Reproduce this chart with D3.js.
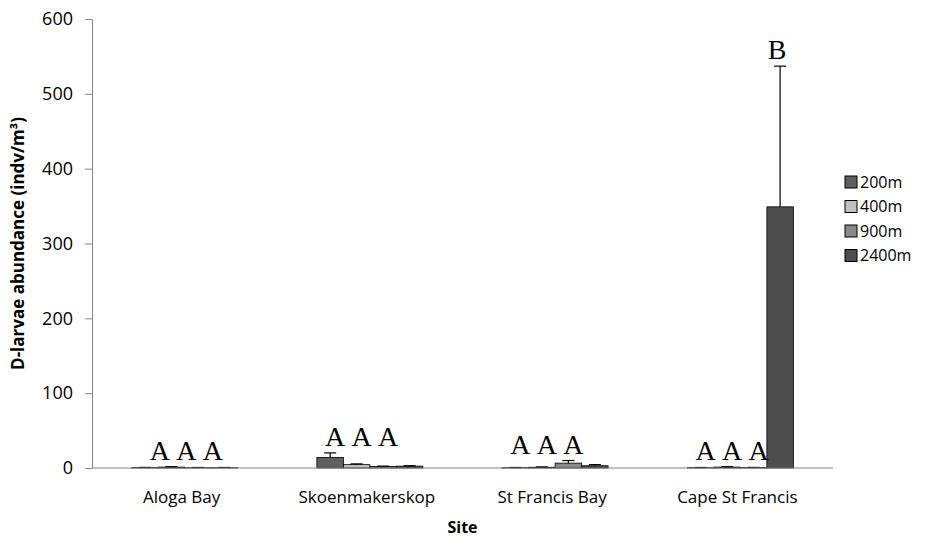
<!DOCTYPE html>
<html>
<head>
<meta charset="utf-8">
<script src="https://cdn.jsdelivr.net/npm/d3@7"></script>
<style>
  html, body { margin: 0; padding: 0; background: #fff; }
  svg { display: block; }
</style>
</head>
<body>
<svg id="chart" width="927" height="540"></svg>
<script>
// Sampling sites and depth series
const sites = ["Aloga Bay", "Skoenmakerskop", "St Francis Bay", "Cape St Francis"];
const depths = ["200m", "400m", "900m", "2400m"];

// Mean D-larvae abundance (indv/m³) per site, one array per depth
const mean200  = [0.5, 14.2, 0.4, 0.4];
const mean400  = [1.2, 4.5, 1.0, 1.2];
const mean900  = [0.4, 2.0, 6.5, 0.5];
const mean2400 = [0.4, 2.5, 3.0, 349];

// Upper error (standard error) per site, one array per depth
const err200  = [0.3, 6.0, 0.3, 0.3];
const err400  = [0.6, 1.0, 0.5, 0.6];
const err900  = [0.3, 0.5, 3.5, 0.3];
const err2400 = [0.3, 0.6, 1.5, 188];

// Significance letters above each bar ("" = none)
const letters200  = ["A", "A", "A", "A"];
const letters400  = ["A", "A", "A", "A"];
const letters900  = ["A", "A", "A", "A"];
const letters2400 = ["", "", "", "B"];

const yTicks = [0, 100, 200, 300, 400, 500, 600];

const means = [mean200, mean400, mean900, mean2400];
const errs = [err200, err400, err900, err2400];
const letters = [letters200, letters400, letters900, letters2400];
const colors = ["#5f5f5f", "#c0c0c0", "#898989", "#4d4d4d"];

const rows = [];
sites.forEach((s, i) => depths.forEach((d, j) => {
  rows.push({ site: s, depth: d, si: i, dj: j, v: means[j][i], e: errs[j][i], L: letters[j][i] });
}));

const svg = d3.select("#chart");
const m = { left: 92, right: 94, top: 19, bottom: 72 };
const W = 927, H = 540;

const x = d3.scaleBand().domain(sites).range([m.left, W - m.right]).paddingInner(0).paddingOuter(0);
const inner = d3.scaleBand().domain(depths).range([0, x.bandwidth() * 0.572]).padding(0);
const y = d3.scaleLinear().domain([0, 600]).range([H - m.bottom, m.top]);

const groupOffset = (x.bandwidth() - inner.range()[1]) / 2;
const barX = r => x(r.site) + groupOffset + inner(r.depth);

const axisColor = "#868686";
const sans = "'Open Sans', 'Noto Sans', sans-serif";

// Y axis
const yAxis = svg.append("g")
  .attr("transform", `translate(${m.left},0)`)
  .call(d3.axisLeft(y).tickValues(yTicks).tickSize(7).tickPadding(12).tickSizeOuter(0));
yAxis.select(".domain").attr("stroke", axisColor);
yAxis.selectAll(".tick line").attr("stroke", axisColor);
yAxis.selectAll(".tick text")
  .attr("font-family", sans).attr("font-size", 18).attr("fill", "#000");

// Bars
svg.append("g").selectAll("rect").data(rows).join("rect")
  .attr("x", barX)
  .attr("y", r => y(r.v))
  .attr("width", inner.bandwidth())
  .attr("height", r => y(0) - y(r.v))
  .attr("fill", r => colors[r.dj])
  .attr("stroke", "#000")
  .attr("stroke-width", 0.8);

// Error bars (upper only)
const eg = svg.append("g").attr("stroke", "#000").attr("stroke-width", 1.2);
rows.forEach(r => {
  const cx = barX(r) + inner.bandwidth() / 2;
  eg.append("line").attr("x1", cx).attr("x2", cx).attr("y1", y(r.v)).attr("y2", y(r.v + r.e));
  eg.append("line").attr("x1", cx - 6).attr("x2", cx + 6).attr("y1", y(r.v + r.e)).attr("y2", y(r.v + r.e));
});

// X axis line
svg.append("line")
  .attr("x1", m.left).attr("x2", W - m.right)
  .attr("y1", y(0)).attr("y2", y(0))
  .attr("stroke", axisColor).attr("stroke-width", 1.2);

// Category labels
svg.append("g").selectAll("text").data(sites).join("text")
  .attr("x", d => x(d) + x.bandwidth() / 2 - 3)
  .attr("y", y(0) + 35)
  .attr("text-anchor", "middle")
  .attr("font-family", sans).attr("font-size", 17)
  .text(d => d);

// Significance letters: A's sit over the first three bars of a group, B over its bar
const letterNudge = [15, 5, 5, 5];
svg.append("g").selectAll("text").data(rows.filter(r => r.L)).join("text")
  .attr("x", r => {
    const cx = barX(r) + inner.bandwidth() / 2;
    return r.L === "B" ? cx - 3 : cx + letterNudge[r.si];
  })
  .attr("y", r => {
    if (r.L === "B") return y(r.v + r.e) - 7;
    const top = d3.max([0, 1, 2], j => means[j][r.si] + errs[j][r.si]);
    return y(top) - 7;
  })
  .attr("text-anchor", "middle")
  .attr("font-family", "'Liberation Serif', 'Times New Roman', serif")
  .attr("font-size", 28)
  .text(r => r.L);

// Axis titles
svg.append("text")
  .attr("x", (m.left + W - m.right) / 2)
  .attr("y", 533)
  .attr("text-anchor", "middle")
  .attr("font-family", sans).attr("font-size", 16).attr("font-weight", "bold")
  .text("Site");

svg.append("text")
  .attr("transform", `translate(24,${(y(0) + y(600)) / 2}) rotate(-90)`)
  .attr("text-anchor", "middle")
  .attr("font-family", sans).attr("font-size", 17).attr("font-weight", "bold")
  .text("D-larvae abundance (indv/m³)");

// Legend
const lg = svg.append("g").attr("transform", "translate(845,182)");
depths.forEach((d, j) => {
  const g = lg.append("g").attr("transform", `translate(0,${j * 24.5})`);
  g.append("rect").attr("x", 0).attr("y", -6).attr("width", 12).attr("height", 12)
    .attr("fill", colors[j]).attr("stroke", "#000").attr("stroke-width", 1);
  g.append("text").attr("x", 15).attr("y", 0).attr("dy", "0.35em")
    .attr("font-family", sans).attr("font-size", 16).text(d);
});
</script>
</body>
</html>
